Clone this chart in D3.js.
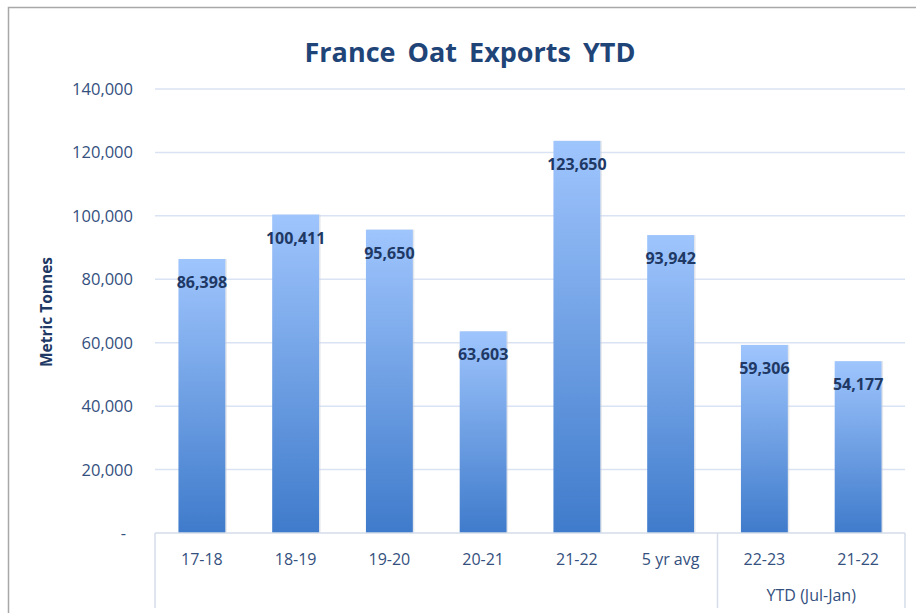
<html>
<head>
<style>
body {
  margin: 0;
  background: white;
}
svg {
  display: block;
}
text {
  font-family: "Open Sans", sans-serif;
}
</style>
</head>
<body>
<script src="https://cdnjs.cloudflare.com/ajax/libs/d3/7.8.5/d3.min.js"></script>
<script>
var categories = ["17-18", "18-19", "19-20", "20-21", "21-22", "5 yr avg", "22-23", "21-22 "]
var exports = [86398, 100411, 95650, 63603, 123650, 93942, 59306, 54177]
var yTicks = [0, 20000, 40000, 60000, 80000, 100000, 120000, 140000]
var groupLabel = "YTD (Jul-Jan)"

var width = 916,
    height = 613,
    plotLeft = 155,
    plotRight = 905,
    plotTop = 89,
    plotBottom = 533

var svg = d3.select("body")
  .append("svg")
  .attr("width", width)
  .attr("height", height)

// chart border
svg.append("rect")
  .attr("x", 8.5)
  .attr("y", 7.5)
  .attr("width", 930)
  .attr("height", 640)
  .attr("fill", "white")
  .attr("stroke", "#a8a8a8")
  .attr("stroke-width", 1.5)

var grad = svg.append("defs").append("linearGradient")
  .attr("id", "barGrad")
  .attr("x1", 0).attr("y1", 0)
  .attr("x2", 0).attr("y2", 1)
grad.append("stop").attr("offset", "0%").attr("stop-color", "#9fc5fd")
grad.append("stop").attr("offset", "100%").attr("stop-color", "#3f7bcb")

var x = d3.scaleBand().domain(categories).range([plotLeft, plotRight]).paddingInner(0.5).paddingOuter(0.25)
var y = d3.scaleLinear().domain([0, 140000]).range([plotBottom, plotTop])

// gridlines
svg.append("g")
  .selectAll("line")
  .data(yTicks.slice(1))
  .enter().append("line")
  .attr("x1", plotLeft)
  .attr("x2", plotRight)
  .attr("y1", function(d) { return y(d) })
  .attr("y2", function(d) { return y(d) })
  .attr("stroke", "#dae3f3")
  .attr("stroke-width", 1.5)

// y tick labels
var fmt = d3.format(",")
svg.append("g")
  .selectAll("text")
  .data(yTicks)
  .enter().append("text")
  .attr("x", function(d) { return d === 0 ? 126 : 133 })
  .attr("y", function(d) { return y(d) })
  .attr("dy", "0.36em")
  .attr("text-anchor", "end")
  .attr("fill", "#34507e")
  .style("font-size", "16.5px")
  .text(function(d) { return d === 0 ? "-" : fmt(d) })

// bar shadows
svg.append("g")
  .selectAll("rect")
  .data(exports)
  .enter().append("rect")
  .attr("x", function(d, i) { return x(categories[i]) + 1.5 })
  .attr("y", function(d) { return y(d) })
  .attr("width", x.bandwidth())
  .attr("height", function(d) { return plotBottom - y(d) })
  .attr("fill", "#c9cfd8")
  .attr("opacity", 0.5)

// bars
svg.append("g")
  .selectAll("rect")
  .data(exports)
  .enter().append("rect")
  .attr("x", function(d, i) { return x(categories[i]) })
  .attr("y", function(d) { return y(d) })
  .attr("width", x.bandwidth())
  .attr("height", function(d) { return plotBottom - y(d) })
  .attr("fill", "url(#barGrad)")

// value labels
svg.append("g")
  .selectAll("text")
  .data(exports)
  .enter().append("text")
  .attr("x", function(d, i) { return x(categories[i]) + x.bandwidth() / 2 })
  .attr("y", function(d) { return y(d) + 29 })
  .attr("text-anchor", "middle")
  .attr("fill", "#203864")
  .style("font-size", "16px")
  .style("font-weight", "bold")
  .text(function(d) { return fmt(d) })

// category axis
var axisColor = "#d5dde9"
svg.append("line")
  .attr("x1", plotLeft).attr("x2", plotRight)
  .attr("y1", plotBottom).attr("y2", plotBottom)
  .attr("stroke", axisColor).attr("stroke-width", 1.5)

var sepX = [plotLeft, (x("5 yr avg") + x.bandwidth() + x("22-23")) / 2, plotRight]
svg.append("g")
  .selectAll("line")
  .data(sepX)
  .enter().append("line")
  .attr("x1", function(d) { return d })
  .attr("x2", function(d) { return d })
  .attr("y1", plotBottom)
  .attr("y2", 608)
  .attr("stroke", axisColor)
  .attr("stroke-width", 1.5)

svg.append("g")
  .selectAll("text")
  .data(categories)
  .enter().append("text")
  .attr("x", function(d) { return x(d) + x.bandwidth() / 2 })
  .attr("y", 565)
  .attr("text-anchor", "middle")
  .attr("fill", "#34507e")
  .style("font-size", "16px")
  .text(function(d) { return d.trim() })

svg.append("text")
  .attr("x", (sepX[1] + plotRight) / 2)
  .attr("y", 601)
  .attr("text-anchor", "middle")
  .attr("fill", "#34507e")
  .style("font-size", "16px")
  .text(groupLabel)

// y axis title
svg.append("text")
  .attr("transform", "translate(52 312) rotate(-90)")
  .attr("text-anchor", "middle")
  .attr("fill", "#203864")
  .style("font-size", "15.5px")
  .style("font-weight", "bold")
  .text("Metric Tonnes")

// title
svg.append("text")
  .attr("x", 470)
  .attr("y", 62)
  .attr("text-anchor", "middle")
  .attr("fill", "#1f4478")
  .style("font-size", "27px")
  .style("font-weight", "bold")
  .style("word-spacing", "5px")
  .text("France Oat Exports YTD")
</script>
</body>
</html>
